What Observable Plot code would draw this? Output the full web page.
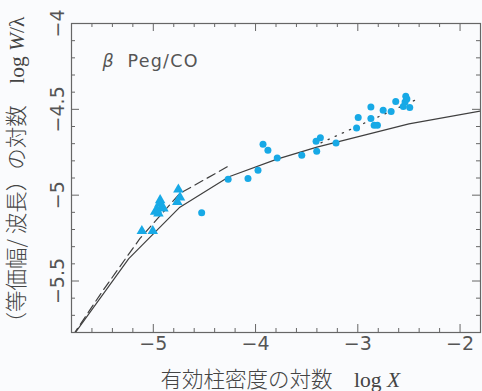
<!DOCTYPE html>
<html><head><meta charset="utf-8">
<script src="https://cdn.jsdelivr.net/npm/d3@7"></script>
<script src="https://cdn.jsdelivr.net/npm/@observablehq/plot@0.6"></script>
<style>body{margin:0;background:#fafbfd;}</style>
</head><body><div id="chart"></div>
<script>
// Observed lines (circles): log X, log W/λ
const circleX = [-4.268,-4.074,-3.976,-3.927,-3.879,-3.788,-4.527,-3.548,-3.408,-3.366,-3.402,-3.213,-3.012,-2.996,-2.872,-2.872,-2.840,-2.808,-2.752,-2.674,-2.629,-2.531,-2.538,-2.555,-2.492,-2.520];
const circleY = [-4.907,-4.903,-4.855,-4.703,-4.738,-4.783,-5.103,-4.767,-4.686,-4.665,-4.744,-4.696,-4.609,-4.548,-4.487,-4.554,-4.593,-4.593,-4.506,-4.513,-4.455,-4.424,-4.458,-4.483,-4.490,-4.440];
// Observed lines (triangles)
const triX = [-5.112,-5.005,-4.755,-4.739,-4.765,-4.933,-4.917,-4.966,-4.901,-4.950,-4.982,-4.940];
const triY = [-5.209,-5.209,-4.967,-5.013,-5.039,-5.029,-5.068,-5.087,-5.077,-5.106,-5.097,-5.050];
// Curves of growth
const solidX = [-5.78,-5.24,-4.74,-4.26,-3.79,-3.40,-2.50,-1.80];
const solidY = [-5.815,-5.37,-5.07,-4.893,-4.79,-4.72,-4.585,-4.51];
const dashX = [-5.79,-5.50,-5.26,-5.13,-4.74,-4.25];
const dashY = [-5.82,-5.562,-5.36,-5.252,-4.99,-4.826];
const dotX = [-3.36,-2.43];
const dotY = [-4.695,-4.444];
// Axes
const xMajor = [-5,-4,-3,-2];
const xMajorLabels = ["−5","−4","−3","−2"];
const xMinor = [-5.6,-5.4,-5.2,-4.8,-4.6,-4.4,-4.2,-3.8,-3.6,-3.4,-3.2,-2.8,-2.6,-2.4,-2.2];
const yMajor = [-4,-4.5,-5,-5.5];
const yMajorLabels = ["−4","−4.5","−5","−5.5"];
const yMinor = [-5.7,-5.6,-5.4,-5.3,-5.2,-5.1,-4.9,-4.8,-4.7,-4.6,-4.4,-4.3,-4.2,-4.1];
const xTitle = "有効柱密度の対数　log X";
const yTitle = "（等価幅/ 波長）の対数　log W/λ";
const label = "β  Peg/CO";

const W = 482, H = 391, mt = 23, mb = 59, ml = 71, mr = 2;
const innerH = H - mt - mb, innerW = W - ml - mr;
const cyan = "#17a9e6", frameC = "#666", lineC = "#3f3f3f", textC = "#555";
const zip = (xs, ys) => xs.map((x, i) => ({x, y: ys[i]}));

const chart = Plot.plot({
  width: W, height: H,
  marginTop: mt, marginBottom: mb, marginLeft: ml, marginRight: mr,
  style: {background: "#fafbfd", fontFamily: "DejaVu Sans, sans-serif", overflow: "visible"},
  x: {domain: [-5.8, -1.8], axis: null},
  y: {domain: [-5.8, -4], axis: null},
  marks: [
    // ticks inside the frame on all sides
    Plot.ruleX(xMinor, {x: d => d, insetTop: innerH - 4, stroke: frameC}),
    Plot.ruleX(xMinor, {x: d => d, insetBottom: innerH - 4, stroke: frameC}),
    Plot.ruleX(xMajor, {x: d => d, insetTop: innerH - 8, stroke: frameC}),
    Plot.ruleX(xMajor, {x: d => d, insetBottom: innerH - 8, stroke: frameC}),
    Plot.ruleY(yMinor, {y: d => d, insetRight: innerW - 4, stroke: frameC}),
    Plot.ruleY(yMinor, {y: d => d, insetLeft: innerW - 4, stroke: frameC}),
    Plot.ruleY(yMajor, {y: d => d, insetRight: innerW - 8, stroke: frameC}),
    Plot.ruleY(yMajor, {y: d => d, insetLeft: innerW - 8, stroke: frameC}),
    Plot.frame({stroke: frameC, strokeWidth: 1.2}),
    // curves
    Plot.line(zip(solidX, solidY), {x: "x", y: "y", stroke: lineC, strokeWidth: 1.2, clip: true}),
    Plot.line(zip(dashX, dashY), {x: "x", y: "y", stroke: lineC, strokeWidth: 1.2, strokeDasharray: "9,5", clip: true}),
    Plot.line(zip(dotX, dotY), {x: "x", y: "y", stroke: lineC, strokeWidth: 1.3, strokeDasharray: "1.3,6.5", clip: true}),
    // data
    Plot.dot(zip(circleX, circleY), {x: "x", y: "y", r: 3.5, fill: cyan, stroke: null}),
    Plot.dot(zip(triX, triY), {x: "x", y: "y", r: 3.9, symbol: "triangle", fill: cyan, stroke: null}),
    // tick labels
    Plot.text(xMajor, {x: d => d, text: (d, i) => xMajorLabels[i], frameAnchor: "bottom", dy: 17, fontSize: 19, fill: textC}),
    Plot.text(yMajor, {y: d => d, text: (d, i) => yMajorLabels[i], frameAnchor: "left", dx: -14, rotate: -90, textAnchor: "middle", fontSize: 19, fill: textC}),
    // titles
    Plot.text([xTitle], {text: d => d, frameAnchor: "bottom-left", dx: 89, dy: 54, textAnchor: "start", fontSize: 21.5, fill: "#444"}),
    Plot.text([yTitle], {text: d => d, frameAnchor: "bottom-left", dx: -48, dy: 1, textAnchor: "start", rotate: -90, fontSize: 21.5, fill: "#444"}),
    Plot.text([label], {text: d => d, frameAnchor: "top-left", dx: 31, dy: 31, textAnchor: "start", fontSize: 17.5, fill: textC})
  ]
});

const serif = "Liberation Serif, DejaVu Serif, serif";
const cjk = "Noto Sans CJK JP, sans-serif";
function rich(content, parts) {
  d3.select(chart).selectAll("text").filter(function() { return this.textContent === content; }).each(function() {
    const t = d3.select(this); t.text(null);
    parts.forEach(p => {
      t.append("tspan").attr("font-family", p.f).attr("font-style", p.i ? "italic" : null)
        .attr("letter-spacing", p.ls || null).attr("font-weight", p.w || null).text(p.s);
    });
  });
}
rich(xTitle, [{s: "有効柱密度の対数　", f: cjk, w: 300}, {s: "log\u00a0", f: serif}, {s: "X", f: serif, i: true}]);
rich(yTitle, [{s: "（等価幅/ 波長）の対数　", f: cjk, w: 300}, {s: "log\u00a0", f: serif}, {s: "W", f: serif, i: true}, {s: "/λ", f: serif}]);
rich(label, [{s: "β", f: "DejaVu Sans, sans-serif", i: true}, {s: "\u00a0\u00a0Peg/CO", f: "DejaVu Sans, sans-serif", ls: "1.3px"}]);

document.getElementById("chart").appendChild(chart);
</script>
</body></html>
